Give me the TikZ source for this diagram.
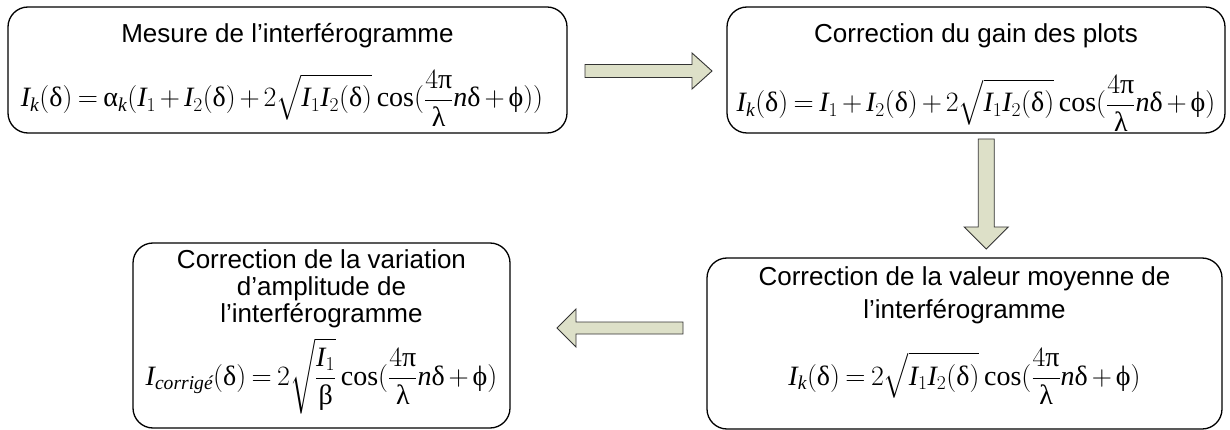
\RequirePackage{fix-cm}
\documentclass[tikz,border=0pt]{standalone}
\usepackage{amsmath}
\usepackage{fontspec}
\setmainfont{Liberation Serif}
\setsansfont{Liberation Sans}
\newfontfamily\grec{Liberation Serif}
\usetikzlibrary{calc}

\definecolor{flechefond}{RGB}{221,224,200}

% upright greek letters and italic variables, as in the original formulas
\newcommand\gdel{\text{\grec δ}}
\newcommand\galp{\text{\grec α}}
\newcommand\gpi{\text{\grec π}}
\newcommand\glam{\text{\grec λ}}
\newcommand\gphi{\text{\grec ϕ}}
\newcommand\gbet{\text{\grec β}}
\newcommand\vI{\mathit{I}}
\newcommand\vn{\mathit{n}}
\newcommand\vk{\mathit{k}}

\tikzset{
    pics/fleche/.style n args={4}{code={
        % #1 length, #2 half shaft, #3 half head, #4 head length
        \draw[flechestyle] (-#1/2,-#2) -- (#1/2-#4,-#2) -- (#1/2-#4,-#3) -- (#1/2,0)
            -- (#1/2-#4,#3) -- (#1/2-#4,#2) -- (-#1/2,#2) -- cycle;
    }}
}

\begin{document}
\begin{tikzpicture}[
    x=1pt, y=-1pt,
    box/.style={
        draw=black, rounded corners=20pt, line width=1.3pt, inner sep=0pt
    },
    titre/.style={font=\sffamily\fontsize{26}{30}\selectfont, align=center, anchor=base, inner sep=0pt},
    formule/.style={font=\fontsize{28}{34}\selectfont, anchor=base, inner sep=0pt},
    flechestyle/.style={draw=black!80, fill=flechefond, line width=0.9pt, line join=miter},
]
\useasboundingbox (0,0) rectangle (1230,430);
% ---------- boxes ----------
\node[box, minimum width=559, minimum height=126] (mes)  at (287.5, 70)  {};
\node[box, minimum width=498, minimum height=126] (gain) at (976, 70)    {};
\node[box, minimum width=515, minimum height=171] (moy)  at (964.5, 343.5) {};
\node[box, minimum width=377, minimum height=185] (var)  at (321.5, 335.5) {};
% ---------- titles (base = last line) ----------
\node[titre] (mesT)  at (287.5, 43) {Mesure de l’interférogramme};
\node[titre] (gainT) at (976, 43)   {Correction du gain des plots};
\node[titre, font=\sffamily\fontsize{26}{33}\selectfont] (moyT) at (964.5, 318)
    {Correction de la valeur moyenne de\\l’interférogramme};
\node[titre, font=\sffamily\fontsize{26}{27}\selectfont] (varT) at (321.5, 322)
    {Correction de la variation\\d’amplitude de\\l’interférogramme};
% ---------- formulas ----------
\node[formule] (mesF) at (282, 107)
    {$\medmuskip=2.5mu\thickmuskip=3.5mu\displaystyle \vI_{\vk}(\gdel)=\galp_{\vk}(\vI_1+\vI_2(\gdel)+2\sqrt{\vI_1\vI_2(\gdel)}\cos(\frac{4\gpi}{\glam}\vn\gdel+\gphi))$};
\node[formule] (gainF) at (976, 112)
    {$\medmuskip=2.5mu\thickmuskip=3.5mu\displaystyle \vI_{\vk}(\gdel)=\vI_1+\vI_2(\gdel)+2\sqrt{\vI_1\vI_2(\gdel)}\cos(\frac{4\gpi}{\glam}\vn\gdel+\gphi)$};
\node[formule] (moyF) at (964.5, 385)
    {$\medmuskip=2.5mu\thickmuskip=3.5mu\displaystyle \vI_{\vk}(\gdel)=2\sqrt{\vI_1\vI_2(\gdel)}\cos(\frac{4\gpi}{\glam}\vn\gdel+\gphi)$};
\node[formule] (varF) at (321.5, 385)
    {$\medmuskip=2.5mu\thickmuskip=3.5mu\displaystyle \vI_{\textit{corrigé}}(\gdel)=2\sqrt{\frac{\vI_1}{\gbet}}\cos(\frac{4\gpi}{\glam}\vn\gdel+\gphi)$};
% ---------- block arrows ----------
\pic at ($(mes.east)!0.5!(gain.west)+(1.5,1)$) {fleche={127}{6.5}{18}{20}};
\pic[rotate=-90] at ($(gain.south)!0.5!(moy.north)+(16,-1.5)$) {fleche={110}{8}{22}{22}};
\pic[rotate=180] at ($(moy.west)!0.5!(var.east)+(11.5,-11.5)$) {fleche={126}{6}{19}{19}};
\end{tikzpicture}
\end{document}
